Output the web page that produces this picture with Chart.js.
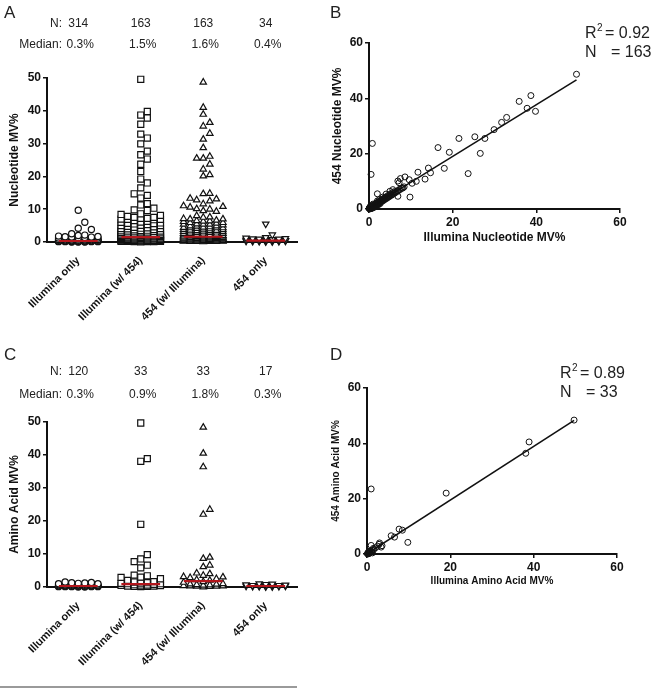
<!DOCTYPE html>
<html>
<head>
<meta charset="utf-8">
<script src="https://cdn.jsdelivr.net/npm/chart.js@4.4.1/dist/chart.umd.min.js"></script>
<style>
  body { margin: 0; background: #fff; }
  #wrap { position: relative; width: 654px; height: 690px; }
  canvas { position: absolute; }
  #rule { position: absolute; left: 0; top: 686px; width: 297px; border-top: 2px solid #9a9a9a; }
</style>
</head>
<body>
<div id="wrap">
  <canvas id="panel-a" width="330" height="340" style="left:0;top:0"></canvas>
  <canvas id="panel-b" width="324" height="250" style="left:330px;top:0"></canvas>
  <canvas id="panel-c" width="330" height="340" style="left:0;top:340px"></canvas>
  <canvas id="panel-d" width="324" height="255" style="left:330px;top:340px"></canvas>
  <div id="rule"></div>
</div>
<script>
// ---- data ----
const categories = ["Illumina only", "Illumina (w/ 454)", "454 (w/ Illumina)", "454 only"];

// nucleotide minor variants
const ntCounts = [314, 163, 163, 34];
const ntMedians = [0.3, 1.5, 1.6, 0.4];
const ntIlluminaOnly = [9.7, 6.0, 4.2, 3.8, 2.5, 2.1, 2.0, 1.8, 1.7, 1.6, 1.5, 1.5, 1.4, 1.3, 1.2, 1.2,
  1.1, 1.0, 1.0, 0.9, 0.9, 0.8, 0.8, 0.7, 0.7, 0.6, 0.6, 0.5, 0.5, 0.5, 0.4, 0.4, 0.4, 0.4, 0.3, 0.3,
  0.3, 0.3, 0.3, 0.3, 0.2, 0.2, 0.2, 0.2, 0.2, 0.2, 0.1, 0.1, 0.1, 0.1, 0.1, 0.1, 0.1, 0.0, 0.0, 0.0];
const nt454Only = [5.5, 2.2, 1.4, 1.2, 1.1, 1.0, 0.9, 0.9, 0.8, 0.7, 0.6, 0.5, 0.5, 0.4, 0.4, 0.4, 0.3,
  0.3, 0.3, 0.2, 0.2, 0.2, 0.1, 0.1];
// paired [Illumina, 454] values of the shared variants
const ntPairs = [
  [49.6, 48.7], [38.7, 41.0], [35.9, 38.9], [37.8, 36.4], [39.8, 35.3], [32.9, 33.1], [31.7, 31.3],
  [29.9, 28.7], [27.7, 25.5], [25.3, 26.1], [21.5, 25.5], [26.6, 20.1], [19.2, 20.5], [16.5, 22.2],
  [23.7, 12.8], [18.0, 14.7], [14.7, 13.1], [14.2, 14.8], [13.4, 10.8], [11.7, 13.3], [11.3, 10.0],
  [10.3, 9.3], [9.6, 10.6], [8.6, 11.6], [7.5, 11.0], [6.9, 10.1], [7.2, 9.5], [9.8, 4.3], [6.9, 4.6],
  [0.8, 23.7], [0.5, 12.5], [2.0, 5.5], [5.7, 7.0], [5.0, 6.4], [4.1, 5.4], [3.3, 4.3], [2.5, 3.4],
  [0.1, 0.1], [0.1, 0.2], [0.2, 0.1], [0.2, 0.3], [0.3, 0.2], [0.3, 0.4], [0.4, 0.3], [0.4, 0.5],
  [0.5, 0.4], [0.5, 0.6], [0.6, 0.5], [0.6, 0.8], [0.7, 0.6], [0.7, 0.9], [0.8, 0.7], [0.8, 1.0],
  [0.9, 0.8], [0.9, 1.1], [1.0, 0.9], [1.0, 1.3], [1.1, 1.0], [1.1, 0.8], [1.2, 1.1], [1.2, 1.5],
  [1.3, 1.2], [1.3, 0.9], [1.4, 1.3], [1.4, 1.7], [1.5, 1.4], [1.5, 1.1], [1.6, 1.5], [1.6, 1.9],
  [1.7, 1.6], [1.7, 1.3], [1.8, 1.7], [1.8, 2.1], [1.9, 1.8], [2.0, 1.9], [2.0, 2.4], [2.1, 2.0],
  [2.2, 2.1], [2.2, 1.7], [2.3, 2.2], [2.4, 2.6], [2.5, 2.3], [2.6, 2.5], [2.6, 2.9], [2.8, 2.6],
  [2.9, 3.1], [3.0, 2.7], [3.1, 3.0], [3.2, 3.5], [3.3, 3.0], [3.4, 3.3], [3.5, 3.8], [3.6, 3.2],
  [3.7, 3.6], [3.8, 4.1], [4.0, 3.7], [4.1, 4.0], [4.2, 4.5], [4.3, 3.9], [4.5, 4.3], [4.6, 4.9],
  [4.8, 4.4], [5.0, 4.8], [5.1, 5.4], [5.3, 4.9], [5.5, 5.2], [5.6, 5.9], [5.8, 5.4], [6.0, 5.7],
  [6.1, 6.3], [6.3, 5.9], [6.5, 6.2], [6.8, 6.5], [7.0, 6.6], [7.2, 7.0], [7.5, 7.1], [7.8, 7.5],
  [8.1, 7.6], [8.4, 8.0], [0.05, 0.3], [0.2, 0.6], [0.4, 0.1], [0.6, 0.2], [0.3, 0.9], [0.9, 0.4],
  [1.2, 0.6], [0.5, 1.2], [1.8, 1.2], [2.3, 1.6], [2.7, 2.0], [3.0, 3.4], [2.0, 2.9], [1.0, 1.8],
  [0.15, 0.05], [0.25, 0.15], [0.35, 0.25], [0.45, 0.35]
];
const ntR2 = "0.92";
const ntFit = [0.3, 0.935]; // intercept, slope

// amino acid minor variants
const aaCounts = [120, 33, 33, 17];
const aaMedians = [0.3, 0.9, 1.8, 0.3];
const aaIlluminaOnly = [1.5, 1.4, 1.3, 1.2, 1.1, 1.0, 1.0, 0.9, 0.9, 0.8, 0.8, 0.7, 0.7, 0.6, 0.6, 0.6,
  0.5, 0.5, 0.5, 0.4, 0.4, 0.4, 0.4, 0.3, 0.3, 0.3, 0.3, 0.3, 0.2, 0.2, 0.2, 0.2, 0.2, 0.1, 0.1, 0.1,
  0.1, 0.1, 0.0, 0.0];
const aa454Only = [1.0, 0.9, 0.8, 0.7, 0.6, 0.5, 0.5, 0.4, 0.4, 0.3, 0.3, 0.3, 0.2, 0.2, 0.2, 0.1, 0.1];
const aaPairs = [
  [49.7, 48.4], [38.9, 40.5], [38.1, 36.4], [19.0, 22.0], [1.0, 23.5], [9.8, 4.2], [8.5, 8.6],
  [7.7, 9.0], [6.6, 6.1], [5.8, 6.6], [3.4, 2.5], [2.9, 3.5], [3.0, 4.0], [3.6, 3.0], [1.0, 3.1],
  [1.6, 1.6], [0.6, 1.0], [0.2, 0.3], [0.3, 0.5], [0.5, 0.2], [0.4, 0.8], [0.7, 0.6], [1.2, 1.4],
  [1.5, 2.0], [2.0, 2.2], [0.1, 0.1], [0.2, 0.0], [0.8, 0.9], [0.3, 0.2], [1.1, 0.7], [0.6, 0.3],
  [2.5, 2.8], [1.3, 0.4]
];
const aaR2 = "0.89";
const aaFit = [0.1, 0.97];

// ---- drawing ----
const FONT = '"Liberation Sans", Arial, sans-serif';
const INK = "#111";
const MARKERS = ["circle", "rect", "triangle", "triangle"];
const MARKER_R = [3.1, 4.3, 3.7, 3.7];

// Prism-style column scatter: a point moves sideways until it stops overlapping
function swarm(values, center) {
  const D = 0.105, V = 2.0;
  const slots = [0, 1, -1, 2, -2, 3, -3];
  const placed = [];
  values.slice().sort((a, b) => a - b).forEach((v, idx) => {
    let x = null;
    for (const k of slots) {
      const cx = center + k * D;
      if (!placed.some(p => Math.abs(p.x - cx) < D * 0.9 && Math.abs(p.y - v) < V)) { x = cx; break; }
    }
    if (x === null) x = center + slots[idx % slots.length] * D;
    placed.push({ x: x, y: v });
  });
  return placed;
}

function panelText(o) {
  return {
    id: "panelText",
    afterDraw(chart) {
      const ctx = chart.ctx;
      ctx.save();
      ctx.fillStyle = "#222";
      ctx.textBaseline = "middle";
      ctx.textAlign = "left";
      ctx.font = "17px " + FONT;
      ctx.fillText(o.letter, o.letterX, o.letterY);
      (o.rows || []).forEach(row => {
        ctx.font = "12px " + FONT;
        ctx.textAlign = "right";
        ctx.fillText(row.label, 62, row.y);
        ctx.textAlign = "center";
        row.values.forEach((v, i) => {
          ctx.fillText(v, chart.scales.x.getPixelForValue(i + 1) + (row.shift || 0), row.y);
        });
      });
      if (o.r2) {
        ctx.textAlign = "left";
        ctx.font = "16px " + FONT;
        ctx.fillText("R", o.statX, 34);
        const w = ctx.measureText("R").width;
        ctx.font = "10px " + FONT;
        ctx.fillText("2", o.statX + w + 0.5, 28);
        ctx.font = "16px " + FONT;
        ctx.fillText("= " + o.r2, o.statX + 20, 34);
        ctx.fillText("N", o.statX, 53);
        ctx.fillText("= " + o.n, o.statX + 26, 53);
      }
      ctx.restore();
    }
  };
}

function axisLines() {
  return {
    border: { display: true, color: INK, width: 2 },
    grid: { display: true, drawOnChartArea: false, drawTicks: true, tickLength: 4, color: INK, lineWidth: 1.5 }
  };
}

function dotPlot(id, groups, medians, counts, yTitle, letter, top, bottomPad, rows) {
  const datasets = [{
    type: "line",
    order: 0,
    data: medians.flatMap((m, i) => [{ x: i + 0.69, y: m }, { x: i + 1.31, y: m }, { x: i + 1.5, y: null }]),
    borderColor: "#b3161c",
    borderWidth: 2.2,
    pointRadius: 0,
    spanGaps: false,
    clip: false
  }];
  groups.forEach((vals, i) => datasets.push({
    type: "scatter",
    order: 1,
    data: swarm(vals, i + 1),
    pointStyle: MARKERS[i],
    rotation: i === 3 ? 180 : 0,
    pointRadius: MARKER_R[i],
    borderColor: INK,
    borderWidth: 1.2,
    backgroundColor: "#fff",
    clip: false
  }));
  return new Chart(document.getElementById(id), {
    type: "scatter",
    data: { datasets },
    options: {
      responsive: false,
      animation: false,
      events: [],
      layout: { padding: { top: top, right: 33, left: 7, bottom: 0 } },
      plugins: { legend: { display: false }, tooltip: { enabled: false } },
      scales: {
        x: {
          type: "linear", min: 0.5, max: 4.5,
          border: { display: true, color: INK, width: 2 },
          grid: { display: false },
          afterBuildTicks: s => { s.ticks = categories.map((c, i) => ({ value: i + 1 })); },
          afterFit: s => { s.height = bottomPad; },
          ticks: {
            minRotation: 45, maxRotation: 45, padding: 4, color: INK,
            font: { family: FONT, size: 11, weight: "bold" },
            callback: v => categories[v - 1]
          }
        },
        y: Object.assign(axisLines(), {
          min: 0, max: 50,
          afterFit: s => { s.width = 40; },
          ticks: { stepSize: 10, padding: 2, color: INK, font: { family: FONT, size: 12, weight: "bold" } },
          title: { display: true, text: yTitle, color: INK, padding: 0, font: { family: FONT, size: 12, weight: "bold" } }
        })
      }
    },
    plugins: [panelText({
      letter: letter, letterX: 4, letterY: rows.letterY,
      rows: [
        { label: "N:", y: rows.nY, values: counts.map(String) },
        { label: "Median:", y: rows.mY, values: medians.map(m => m.toFixed(1) + "%"), shift: 2 }
      ]
    })]
  });
}

function pairPlot(id, pairs, fit, r2, n, xTitle, yTitle, letter, box) {
  const maxX = Math.max(...pairs.map(p => p[0]));
  return new Chart(document.getElementById(id), {
    type: "scatter",
    data: {
      datasets: [
        {
          type: "line",
          data: [0, maxX].map(x => ({ x: x, y: fit[0] + fit[1] * x })),
          borderColor: INK, borderWidth: 1.6, pointRadius: 0
        },
        {
          data: pairs.map(p => ({ x: p[0], y: p[1] })),
          pointStyle: "circle", pointRadius: 3, borderColor: INK, borderWidth: 1,
          backgroundColor: "rgba(255,255,255,0)", clip: false
        }
      ]
    },
    options: {
      responsive: false,
      animation: false,
      events: [],
      layout: { padding: { top: box.top, right: box.right, left: 0, bottom: 4 } },
      plugins: { legend: { display: false }, tooltip: { enabled: false } },
      scales: {
        x: Object.assign(axisLines(), {
          min: 0, max: 60,
          afterFit: s => { s.height = box.xh; },
          ticks: { stepSize: 20, padding: 2, color: INK, font: { family: FONT, size: 12, weight: "bold" } },
          title: { display: true, text: xTitle, color: INK, padding: { top: 0, bottom: box.titlePad },
                   font: { family: FONT, size: box.titleSize, weight: "bold" } }
        }),
        y: Object.assign(axisLines(), {
          min: 0, max: 60,
          afterFit: s => { s.width = box.yw; },
          ticks: { stepSize: 20, padding: 2, color: INK, font: { family: FONT, size: 12, weight: "bold" } },
          title: { display: true, text: yTitle, color: INK, padding: 0,
                   font: { family: FONT, size: box.titleSize, weight: "bold" } }
        })
      }
    },
    plugins: [panelText({ letter: letter, letterX: 0, letterY: box.letterY, r2: r2, n: n, statX: box.statX })]
  });
}

dotPlot("panel-a", [ntIlluminaOnly, ntPairs.map(p => p[0]), ntPairs.map(p => p[1]), nt454Only],
  ntMedians, ntCounts, "Nucleotide MV%", "A", 78, 98, { letterY: 13, nY: 24, mY: 45 });

pairPlot("panel-b", ntPairs, ntFit, ntR2, ntCounts[1], "Illumina Nucleotide MV%", "454 Nucleotide MV%", "B",
  { top: 43, right: 34, yw: 39, xh: 37, titlePad: 1, titleSize: 12, letterY: 13, statX: 255 });

dotPlot("panel-c", [aaIlluminaOnly, aaPairs.map(p => p[0]), aaPairs.map(p => p[1]), aa454Only],
  aaMedians, aaCounts, "Amino Acid MV%", "C", 82, 93, { letterY: 15, nY: 32, mY: 55 });

pairPlot("panel-d", aaPairs, aaFit, aaR2, aaCounts[1], "Illumina Amino Acid MV%", "454 Amino Acid MV%", "D",
  { top: 48, right: 37, yw: 37, xh: 37, titlePad: 4, titleSize: 10, letterY: 15, statX: 230 });
</script>
</body>
</html>
